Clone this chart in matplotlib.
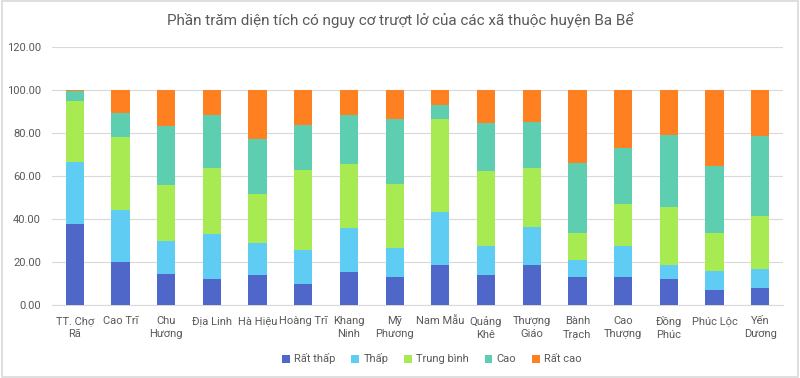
import matplotlib
matplotlib.use("Agg")
import matplotlib.pyplot as plt
from matplotlib.patches import Rectangle
import numpy as np

plt.rcParams['font.family'] = ['Roboto', 'DejaVu Sans']

categories = ["TT. Chợ\nRã", "Cao Trĩ", "Chu\nHương", "Địa Linh", "Hà Hiệu", "Hoàng Trĩ",
              "Khang\nNinh", "Mỹ\nPhương", "Nam Mẫu", "Quảng\nKhê", "Thượng\nGiáo",
              "Bành\nTrạch", "Cao\nThượng", "Đồng\nPhúc", "Phúc Lộc", "Yến\nDương"]

rat_thap   = [37.9, 19.9, 14.3, 12.0, 14.0, 9.9, 15.4, 13.0, 18.8, 14.0, 18.8, 13.0, 13.0, 12.0, 7.1, 7.8]
thap       = [28.6, 24.2, 15.5, 21.2, 14.9, 15.9, 20.5, 13.7, 24.4, 13.6, 17.5, 7.8, 14.3, 6.8, 8.7, 9.0]
trung_binh = [28.4, 33.9, 25.9, 30.6, 22.8, 36.9, 29.6, 29.5, 43.3, 34.8, 27.5, 12.7, 19.6, 26.9, 17.7, 24.7]
cao        = [4.6, 11.4, 27.4, 24.6, 25.5, 21.0, 23.0, 30.3, 6.5, 22.2, 21.1, 32.5, 26.1, 33.2, 31.3, 37.1]
rat_cao    = [0.5, 10.6, 16.9, 11.6, 22.8, 16.3, 11.5, 13.5, 7.0, 15.4, 15.1, 34.0, 27.0, 21.1, 35.2, 21.4]

series_names = ["Rất thấp", "Thấp", "Trung bình", "Cao", "Rất cao"]
colors = ["#4E67C8", "#5ECCF3", "#A7EA52", "#5DCEAF", "#FF8021"]

fig = plt.figure(figsize=(8.0, 3.78), dpi=100)
ax = fig.add_axes([52/800, 1 - 305/378, 731/800, 258/378])

x = np.arange(len(categories))
bottom = np.zeros(len(categories))
for name, vals, c in zip(series_names, [rat_thap, thap, trung_binh, cao, rat_cao], colors):
    vals = np.array(vals)
    ax.bar(x, vals, 0.4, bottom=bottom, color=c, label=name, zorder=3)
    bottom += vals

ax.set_xlim(-0.5, len(categories) - 0.5)
ax.set_ylim(0, 120)
ax.set_yticks(np.arange(0, 121, 20))
ax.set_yticklabels([f"{v:.2f}" for v in np.arange(0, 121, 20)])
ax.set_xticks(x)
ax.set_xticklabels(categories, linespacing=1.35)
ax.tick_params(axis='both', length=0, labelsize=8, labelcolor="#595959")
ax.tick_params(axis='x', pad=8)
ax.tick_params(axis='y', pad=8)
ax.grid(axis='y', color="#D9D9D9", linewidth=0.8, zorder=0)
for s in ["top", "right", "left"]:
    ax.spines[s].set_visible(False)
ax.spines["bottom"].set_color("#D9D9D9")

fig.text(0.5, 1 - 20/378, "Phần trăm diện tích có nguy cơ trượt lở của các xã thuộc huyện Ba Bể",
         ha="center", va="center", fontsize=11, color="#595959")

leg = fig.legend(loc="center", bbox_to_anchor=(0.54, 1 - 359/378), ncol=5, frameon=False,
                 fontsize=8, handlelength=0.7, handleheight=0.7, handletextpad=0.4, columnspacing=1.4)
for t in leg.get_texts():
    t.set_color("#595959")

fig.patches.append(Rectangle((0.002, 0.003), 0.996, 0.994, transform=fig.transFigure,
                             fill=False, edgecolor="#D9D9D9", linewidth=1.2))

fig.savefig("out.png", dpi=100, facecolor="white")
